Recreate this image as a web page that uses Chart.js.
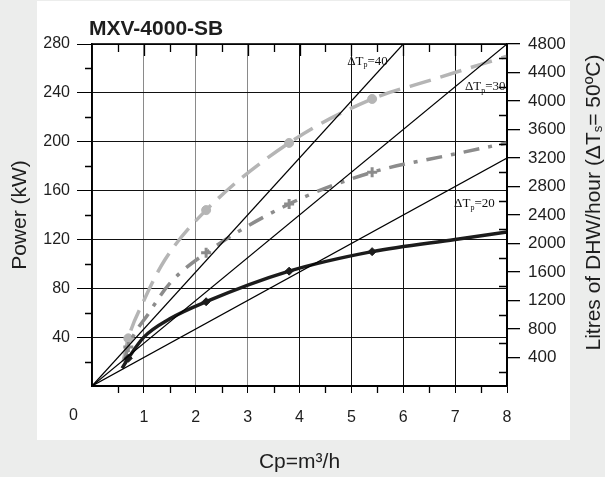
<!DOCTYPE html>
<html>
<head>
<meta charset="utf-8">
<script src="https://cdn.jsdelivr.net/npm/chart.js@4.4.1/dist/chart.umd.min.js"></script>
<style>
  html, body { margin: 0; padding: 0; background: #ecedec; }
  canvas { display: block; }
</style>
</head>
<body>
<canvas id="c" width="605" height="477"></canvas>
<script>
// ---- Data ----
const chartTitle = 'MXV-4000-SB';
const xTicks = [0, 1, 2, 3, 4, 5, 6, 7, 8];
const powerTicks = [40, 80, 120, 160, 200, 240, 280];
const litreTicks = [400, 800, 1200, 1600, 2000, 2400, 2800, 3200, 3600, 4000, 4400, 4800];

// marked measurement points (flow, m3/h)
const markerFlow = [0.7, 2.2, 3.8, 5.4];

// black solid curve (diamonds)
const blackFlow  = [0.58, 0.7, 1.0, 1.5, 2.2, 3.8, 5.4, 7.0, 8.0];
const blackPower = [14.5, 22.7, 40, 55, 69, 94, 110, 120, 126];

// light grey dashed curve (circles)
const greyFlow  = [0.6, 0.7, 1.0, 1.4, 2.2, 3.8, 5.4, 6.5, 8.0];
const greyPower = [20, 39, 70, 103, 144, 199, 235, 250, 270];

// darker grey dash-dot curve (crosses)
const dashDotFlow  = [0.62, 0.7, 1.1, 1.5, 2.2, 3.8, 5.4, 7.0, 8.0];
const dashDotPower = [20, 32, 60, 84, 109, 149, 175, 190, 199];

// straight DHW lines (litres/hour) from the origin
const dtLabels = ['40', '30', '20'];
const dt40Flow = [0, 6];  const dt40Litres = [0, 4800];
const dt30Flow = [0, 8];  const dt30Litres = [0, 4800];
const dt20Flow = [0, 8];  const dt20Litres = [0, 3200];

// ---- helpers ----
function pts(xs, ys) { return xs.map((x, i) => ({ x: x, y: ys[i] })); }
function isMarker(ctx) {
  const r = ctx.raw;
  return r && markerFlow.includes(r.x);
}

const FONT = "'Liberation Sans', Arial, Helvetica, sans-serif";
const SERIF = "'Liberation Serif', 'Times New Roman', serif";
Chart.defaults.font.family = FONT;
Chart.defaults.color = '#1e1e1e';

// label anchors in data units (x flow, y power)
const dtLabelAnchors = [
  { x: 4.92, y: 263 },
  { x: 7.19, y: 242 },
  { x: 6.98, y: 146.5 }
];

const decorPlugin = {
  id: 'decor',
  beforeDraw(chart) {
    const ctx = chart.ctx;
    ctx.save();
    ctx.fillStyle = '#ecedec';
    ctx.fillRect(0, 0, chart.width, chart.height);
    ctx.fillStyle = '#ffffff';
    ctx.fillRect(37, 1, 533, 439);
    ctx.restore();
  },
  afterDraw(chart) {
    const ctx = chart.ctx;
    const a = chart.chartArea;
    const xs = chart.scales.x, ys = chart.scales.y, y2 = chart.scales.y2;
    ctx.save();
    ctx.strokeStyle = '#000';
    ctx.lineWidth = 1.3;
    ctx.beginPath();
    // left minor ticks (outward)
    for (let v = 20; v < 280; v += 40) {
      const p = Math.round(ys.getPixelForValue(v)) + 0.5;
      ctx.moveTo(a.left - 7, p); ctx.lineTo(a.left, p);
    }
    // bottom minor ticks (outward)
    for (let v = 0.5; v < 8; v += 1) {
      const p = Math.round(xs.getPixelForValue(v)) + 0.5;
      ctx.moveTo(p, a.bottom); ctx.lineTo(p, a.bottom + 7);
    }
    // top ticks (inward)
    for (let v = 0.5; v < 8; v += 0.5) {
      const p = Math.round(xs.getPixelForValue(v)) + 0.5;
      const len = (v % 1 === 0) ? 12 : 8;
      ctx.moveTo(p, a.top); ctx.lineTo(p, a.top + len);
    }
    // right minor ticks (inward)
    for (let v = 200; v < 4800; v += 400) {
      const p = Math.round(y2.getPixelForValue(v)) + 0.5;
      ctx.moveTo(a.right - 8, p); ctx.lineTo(a.right, p);
    }
    ctx.stroke();

    // frame
    ctx.lineWidth = 1.6;
    ctx.strokeRect(a.left, a.top, a.right - a.left, a.bottom - a.top);

    // title
    ctx.fillStyle = '#1e1e1e';
    ctx.font = 'bold 21px ' + FONT;
    ctx.textAlign = 'left';
    ctx.textBaseline = 'alphabetic';
    ctx.fillText(chartTitle, 89, 35);

    // "0" at origin, below-left
    ctx.font = '16px ' + FONT;
    ctx.textAlign = 'center';
    ctx.textBaseline = 'middle';
    ctx.fillText(String(xTicks[0]), 73.5, 416);

    // delta T labels
    dtLabels.forEach((lab, i) => {
      const px = xs.getPixelForValue(dtLabelAnchors[i].x);
      const py = ys.getPixelForValue(dtLabelAnchors[i].y);
      ctx.textAlign = 'left';
      ctx.textBaseline = 'alphabetic';
      ctx.font = '13px ' + SERIF;
      ctx.fillStyle = '#111';
      ctx.fillText('\u0394T', px, py);
      let w = ctx.measureText('\u0394T').width;
      ctx.font = '8px ' + SERIF;
      ctx.fillText('p', px + w, py + 2.5);
      w += ctx.measureText('p').width;
      ctx.font = '13px ' + SERIF;
      ctx.fillText('=' + lab, px + w, py);
    });

    // right axis title (reads bottom to top)
    const partA = 'Litres of DHW/hour (\u0394T';
    const partB = 's';
    const partC = '= 50\u00BAC)';
    ctx.save();
    ctx.translate(594, 202.5);
    ctx.rotate(-Math.PI / 2);
    ctx.fillStyle = '#1e1e1e';
    ctx.textBaseline = 'middle';
    ctx.textAlign = 'left';
    ctx.font = '21px ' + FONT;
    const wA = ctx.measureText(partA).width;
    const wC = ctx.measureText(partC).width;
    ctx.font = '13px ' + FONT;
    const wB = ctx.measureText(partB).width;
    const total = wA + wB + wC;
    let x0 = -total / 2;
    ctx.font = '21px ' + FONT;
    ctx.fillText(partA, x0, 0);
    ctx.font = '13px ' + FONT;
    ctx.fillText(partB, x0 + wA, 4);
    ctx.font = '21px ' + FONT;
    ctx.fillText(partC, x0 + wA + wB, 0);
    ctx.restore();

    ctx.restore();
  }
};

const lineBase = {
  type: 'line',
  fill: false,
  cubicInterpolationMode: 'monotone',
  pointHoverRadius: 0
};

new Chart(document.getElementById('c'), {
  type: 'line',
  data: {
    datasets: [
      Object.assign({}, lineBase, {
        label: 'dT40', data: pts(dt40Flow, dt40Litres), yAxisID: 'y2',
        borderColor: '#000', borderWidth: 1.2, pointRadius: 0, tension: 0
      }),
      Object.assign({}, lineBase, {
        label: 'dT30', data: pts(dt30Flow, dt30Litres), yAxisID: 'y2',
        borderColor: '#000', borderWidth: 1.2, pointRadius: 0, tension: 0
      }),
      Object.assign({}, lineBase, {
        label: 'dT20', data: pts(dt20Flow, dt20Litres), yAxisID: 'y2',
        borderColor: '#000', borderWidth: 1.2, pointRadius: 0, tension: 0
      }),
      Object.assign({}, lineBase, {
        label: 'black', data: pts(blackFlow, blackPower), yAxisID: 'y',
        borderColor: '#1c1c1c', borderWidth: 3.5,
        pointStyle: 'rectRot', pointBackgroundColor: '#1c1c1c', pointBorderColor: '#1c1c1c',
        pointBorderWidth: 1,
        pointRadius: (c) => isMarker(c) ? 4 : 0
      }),
      Object.assign({}, lineBase, {
        label: 'dashdot', data: pts(dashDotFlow, dashDotPower), yAxisID: 'y',
        borderColor: '#8c8c8c', borderWidth: 3.5, borderDash: [16, 9, 4, 9],
        pointStyle: 'cross', pointBackgroundColor: '#8c8c8c', pointBorderColor: '#8c8c8c',
        pointBorderWidth: 3,
        pointRadius: (c) => isMarker(c) ? 5 : 0
      }),
      Object.assign({}, lineBase, {
        label: 'grey', data: pts(greyFlow, greyPower), yAxisID: 'y',
        borderColor: '#b5b5b5', borderWidth: 3.5, borderDash: [22, 10],
        pointStyle: 'circle', pointBackgroundColor: '#b5b5b5', pointBorderColor: '#b5b5b5',
        pointBorderWidth: 1,
        pointRadius: (c) => isMarker(c) ? 4.5 : 0
      })
    ]
  },
  options: {
    responsive: false,
    animation: false,
    devicePixelRatio: 1,
    layout: { padding: { top: 44, left: 0, right: 0, bottom: 0 } },
    plugins: { legend: { display: false }, title: { display: false }, tooltip: { enabled: false } },
    scales: {
      x: {
        type: 'linear', position: 'bottom', min: 0, max: 8,
        afterBuildTicks: (s) => { s.ticks = xTicks.map(v => ({ value: v })); },
        afterFit: (s) => { s.height = 91; },
        ticks: {
          font: { size: 16 }, color: '#1e1e1e', padding: 15, maxRotation: 0,
          callback: (v) => v === 0 ? '' : String(v)
        },
        grid: {
          color: (c) => (c.tick && c.tick.value <= 3) ? '#8a8a8a' : '#111',
          tickColor: (c) => (c.tick && c.tick.value === 0) ? 'rgba(0,0,0,0)' : '#000',
          tickLength: 7, lineWidth: 1
        },
        border: { color: '#000', width: 1.6 },
        title: {
          display: true, text: 'Cp=m\u00B3/h', font: { size: 21 }, color: '#1e1e1e',
          padding: { top: 0, bottom: 2 }
        }
      },
      y: {
        type: 'linear', position: 'left', min: 0, max: 280,
        afterBuildTicks: (s) => { s.ticks = [0].concat(powerTicks).map(v => ({ value: v })); },
        afterFit: (s) => { s.width = 92; },
        ticks: {
          font: { size: 16 }, color: '#1e1e1e', padding: 7,
          callback: (v) => v === 0 ? '' : String(v)
        },
        grid: {
          color: '#111',
          tickColor: (c) => (c.tick && c.tick.value === 0) ? 'rgba(0,0,0,0)' : '#000',
          tickLength: 15, lineWidth: 1
        },
        border: { color: '#000', width: 1.6 },
        title: {
          display: true, text: 'Power (kW)', font: { size: 21 }, color: '#1e1e1e',
          padding: { top: 7.4, bottom: 0 }
        }
      },
      y2: {
        type: 'linear', position: 'right', min: 0, max: 4800,
        afterBuildTicks: (s) => { s.ticks = [0].concat(litreTicks).map(v => ({ value: v })); },
        afterFit: (s) => { s.width = 98; },
        ticks: {
          font: { size: 17 }, color: '#1e1e1e', padding: 8,
          callback: (v) => v === 0 ? '' : String(v)
        },
        grid: {
          drawOnChartArea: false,
          tickColor: (c) => (c.tick && c.tick.value === 0) ? 'rgba(0,0,0,0)' : '#000',
          tickLength: 13, lineWidth: 1.3
        },
        border: { color: '#000', width: 1.6 }
      }
    }
  },
  plugins: [decorPlugin]
});
</script>
</body>
</html>
